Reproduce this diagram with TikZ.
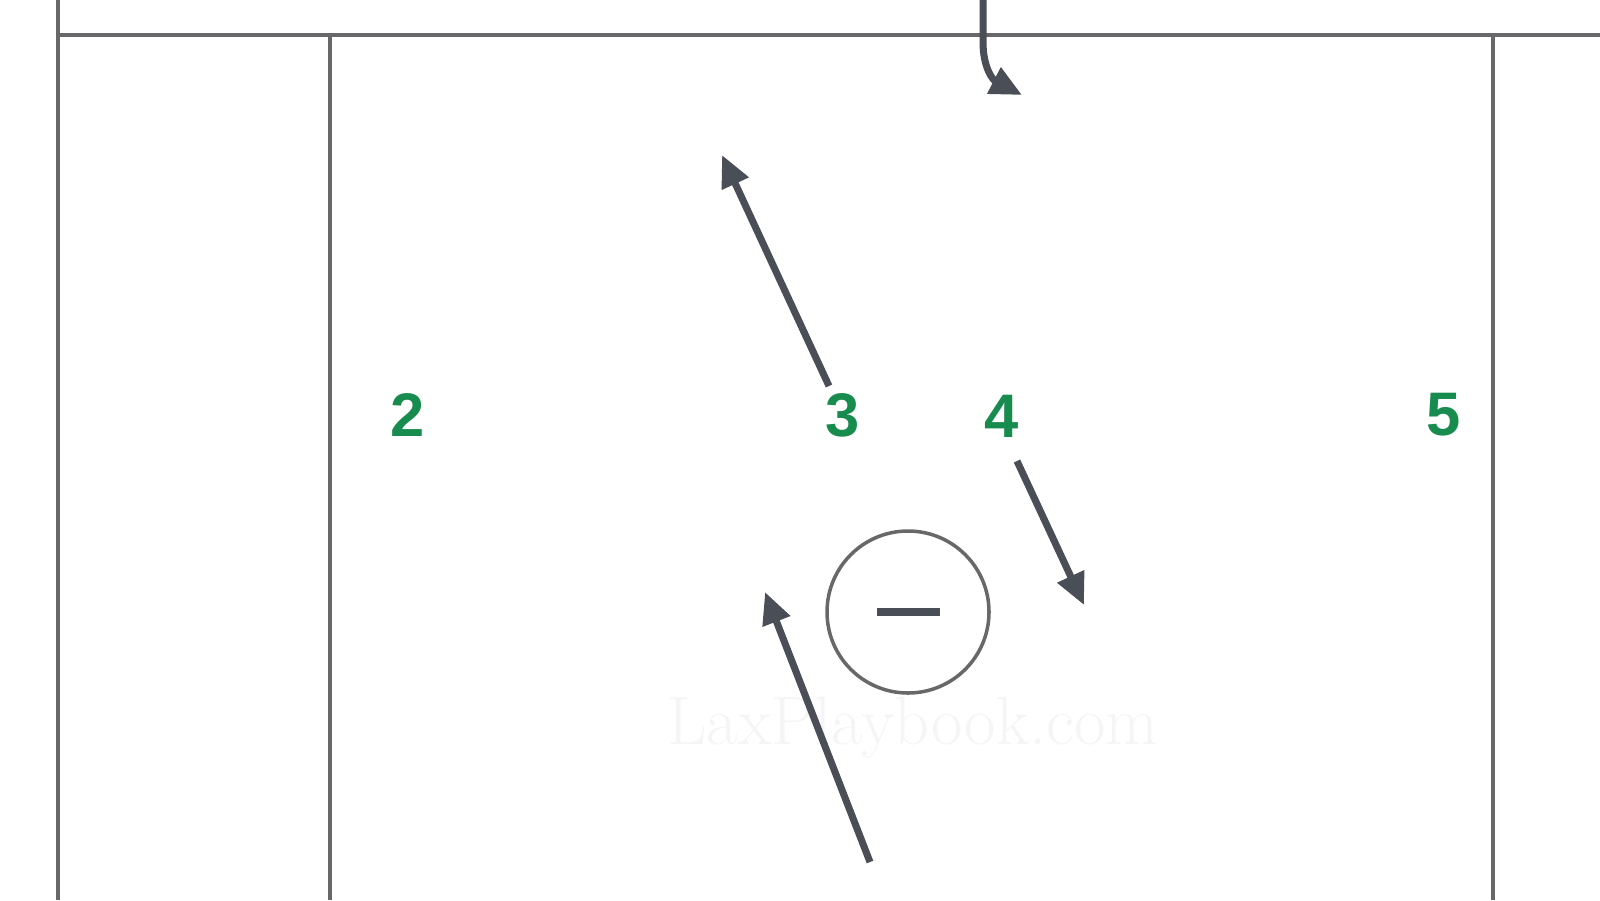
\documentclass[tikz,border=0pt]{standalone}
\usepackage{fontspec}
\setsansfont{Liberation Sans}
\usetikzlibrary{arrows.meta}
\definecolor{fieldgray}{RGB}{104,104,106}
\definecolor{runslate}{RGB}{74,78,86}
\definecolor{playgreen}{RGB}{24,140,78}
\tikzset{
  fieldline/.style={line width=1pt, color=fieldgray},
  runline/.style={line width=2pt, color=runslate, -{Triangle[length=9pt,width=8pt]}},
  player/.style={text=playgreen, font=\fontsize{17.5}{20}\selectfont\sffamily\bfseries, inner sep=1pt},
  goalie/.style={circle, draw=fieldgray, line width=1pt, minimum size=1.62cm, inner sep=0pt}
}
\begin{document}
\begin{tikzpicture}
			%%%%% START %%%%%
			\useasboundingbox (0,0) rectangle (16,-9);
			
			% field lines
			\draw[fieldline] (0.58, 0) -- (0.58, -9);
			\draw[fieldline] (0.58, -0.35) -- (16, -0.35);
			\draw[fieldline] (3.30, -9) -- (3.30, -0.35) -- (14.93, -0.35) -- (14.93, -9);
			
			% watermark
			\node[text=black!4, font=\fontsize{19.5}{24}\selectfont] (mark) at (9.13, -7.28) {LaxPlaybook.com};
			
			% players
			\node[player] (p2) at (4.08, -4.15) {2};
			\node[player] (p3) at (8.43, -4.15) {3};
			\node[player] (p4) at (10.02, -4.16) {4};
			\node[player] (p5) at (14.44, -4.15) {5};
			
			% goalie
			\node[goalie] (g) at (9.08, -6.12) {};
			\draw[line width=2.4pt, color=runslate] ([xshift=-0.31cm]g.center) -- ([xshift=0.32cm]g.center);
			
			% runs
			\coordinate (in) at (9.83, 0);
			\coordinate (inEnd) at (10.22, -0.95);
			\coordinate (s3) at (8.29, -3.86);
			\coordinate (e3) at (7.22, -1.55);
			\coordinate (s4) at (10.17, -4.61);
			\coordinate (e4) at (10.84, -6.05);
			\coordinate (sb) at (8.70, -8.62);
			\coordinate (eb) at (7.65, -5.92);
			
			\draw[runline] (in) -- (9.83, -0.42) .. controls (9.83, -0.68) and (9.93, -0.80) .. (inEnd);
			\draw[runline] (s3) -- (e3);
			\draw[runline] (s4) -- (e4);
			\draw[runline] (sb) -- (eb);
			%%%%% END %%%%%
		\end{tikzpicture}
\end{document}
